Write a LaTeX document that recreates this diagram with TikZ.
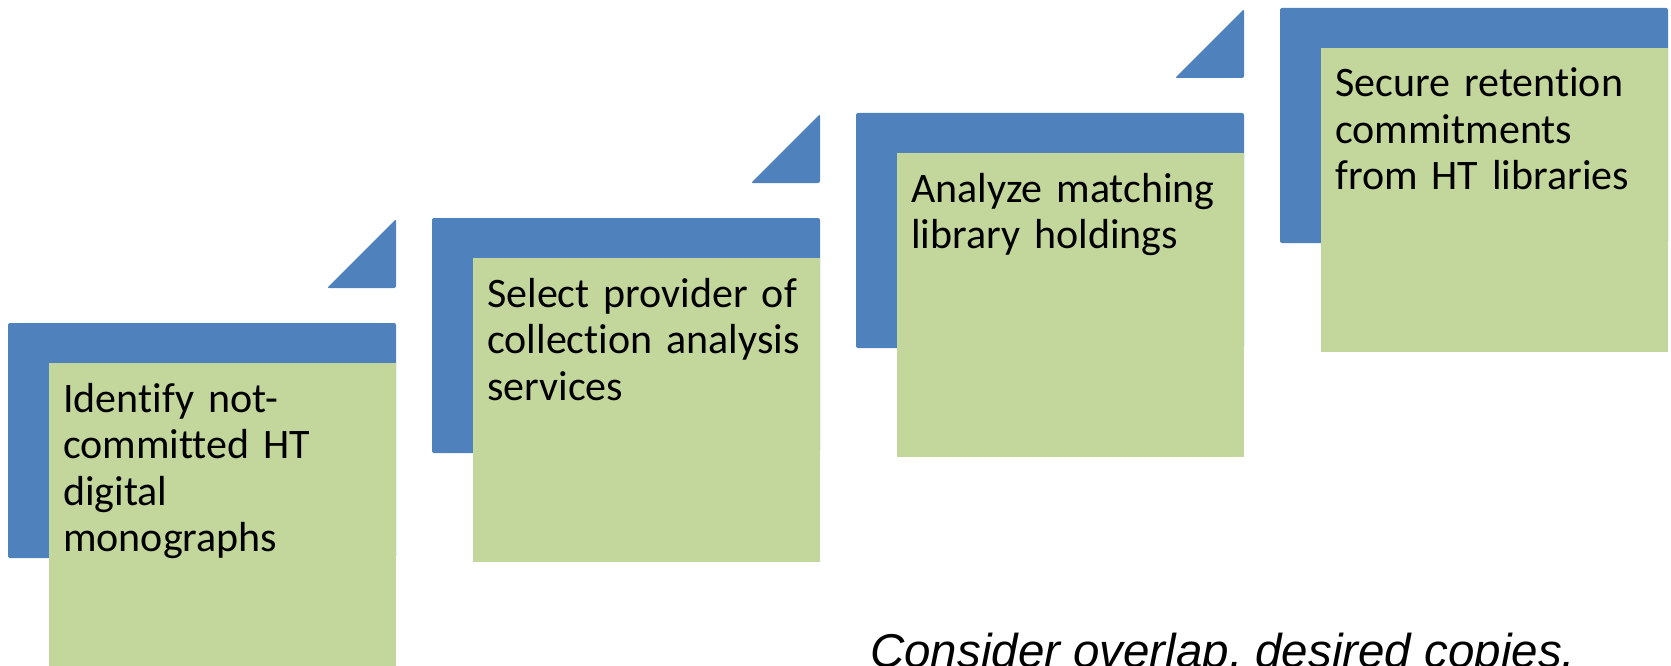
\documentclass[tikz,border=0pt]{standalone}
\usepackage{fontspec}
\setmainfont[Ligatures=NoCommon]{Carlito}
\newfontfamily\notefont{Liberation Sans}
\usetikzlibrary{positioning}
\definecolor{mblue}{HTML}{4F81BD}
\definecolor{mgreen}{HTML}{C3D69B}

\begin{document}
\begin{tikzpicture}[x=1pt, y=-1pt,
    bluebar/.style={fill=mblue, rounded corners=2pt},
    notebox/.style={fill=mgreen, anchor=north west, inner sep=0pt, minimum width=347pt, minimum height=304pt},
    notetext/.style={anchor=base west, inner sep=0pt, align=left, text width=333pt, font=\fontsize{42}{46.5}\selectfont}]
    \path [use as bounding box, clip] (0, 0) rectangle (1671, 666);

    \fill [bluebar] (8, 323) rectangle (396, 558);
    \fill [bluebar] (327, 288) -- (396, 288) -- (396, 219) -- cycle;
    \node [notebox] (box1) at (49, 363) {};
    \node [notetext] (step1) at (63, 412) {Identify not-\\committed HT\\digital\\monographs};

    \fill [bluebar] (432, 218) rectangle (820, 453);
    \fill [bluebar] (751, 183) -- (820, 183) -- (820, 114) -- cycle;
    \node [notebox] (box2) at (473, 258) {};
    \node [notetext] (step2) at (487, 307) {Select provider of\\collection analysis\\services};

    \fill [bluebar] (856, 113) rectangle (1244, 348);
    \fill [bluebar] (1175, 78) -- (1244, 78) -- (1244, 9) -- cycle;
    \node [notebox] (box3) at (897, 153) {};
    \node [notetext] (step3) at (911, 202) {Analyze matching\\library holdings};

    \fill [bluebar] (1280, 8) rectangle (1668, 243);
    \node [notebox] (box4) at (1321, 48) {};
    \node [notetext] (step4) at (1335, 97) {Secure retention\\commitments\\from HT libraries};

    \node [anchor=base west, inner sep=0pt, font=\notefont\itshape\fontsize{47.5}{50}\selectfont] (note) at (870, 667) {Consider overlap, desired copies,};
\end{tikzpicture}
\end{document}
